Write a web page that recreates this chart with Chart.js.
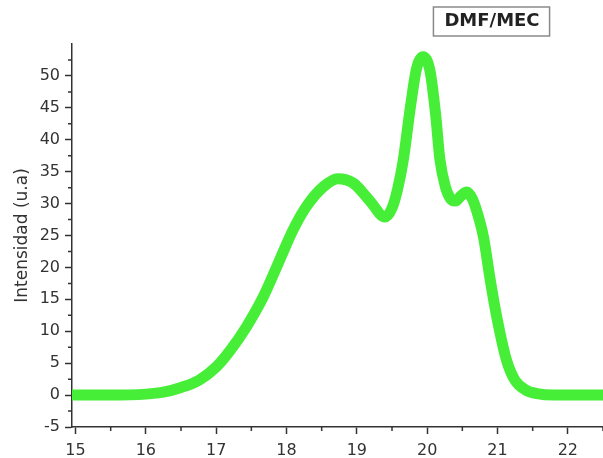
<!DOCTYPE html>
<html>
<head>
<meta charset="utf-8">
<script src="https://cdn.jsdelivr.net/npm/chart.js@4.4.1/dist/chart.umd.min.js"></script>
<style>
  html, body { margin: 0; padding: 0; background: #ffffff; }
  #wrap { width: 603px; height: 458px; }
</style>
</head>
<body>
<div id="wrap"><canvas id="c" width="603" height="458"></canvas></div>
<script>
// ---- data ----
const seriesLabel = 'DMF/MEC';
const yTitle = 'Intensidad (u.a)';
const xValues = [14.95, 15.5, 16.0, 16.25, 16.5, 16.75, 17.0, 17.2, 17.43, 17.67, 17.9, 18.09, 18.28, 18.52, 18.73, 18.95, 19.18, 19.4, 19.5, 19.58, 19.66, 19.76, 19.85, 19.94, 20.04, 20.12, 20.18, 20.26, 20.33, 20.4, 20.48, 20.56, 20.64, 20.7, 20.8, 20.9, 20.99, 21.13, 21.25, 21.4, 21.56, 21.8, 22.5];
const yValues = [0, 0, 0.15, 0.45, 1.2, 2.3, 4.4, 7.0, 10.7, 15.4, 21.1, 25.8, 29.5, 32.6, 33.9, 33.2, 30.5, 27.9, 29.3, 32.3, 36.8, 45.0, 51.2, 53.0, 50.8, 44.0, 37.0, 32.6, 30.8, 30.4, 31.2, 31.8, 30.8, 29.0, 24.8, 17.8, 12.2, 5.4, 2.3, 0.8, 0.24, 0, 0];
const xTicks = [15, 16, 17, 18, 19, 20, 21, 22];
const yTicks = [-5, 0, 5, 10, 15, 20, 25, 30, 35, 40, 45, 50];
const xRange = [14.95, 22.5];
const yRange = [-5, 55];

// ---- styles ----
const AXIS = '#333333';
const TEXT = '#333333';
const LINE = '#46ee37';
const FONT = 'DejaVu Sans';

const points = xValues.map((x, i) => ({ x: x, y: yValues[i] }));

const minorTicks = {
  id: 'minorTicks',
  afterDraw(chart) {
    const ctx = chart.ctx;
    const xs = chart.scales.x, ys = chart.scales.y;
    ctx.save();
    ctx.strokeStyle = AXIS;
    ctx.lineWidth = 1.5;
    ctx.beginPath();
    for (let i = 0; i < xTicks.length; i++) {
      const v = (xTicks[i] + (xTicks[i + 1] !== undefined ? xTicks[i + 1] : xTicks[i] + 1)) / 2;
      if (v <= xs.max) {
        const p = xs.getPixelForValue(v);
        ctx.moveTo(p, xs.top);
        ctx.lineTo(p, xs.top + 4);
      }
    }
    for (let i = 0; i < yTicks.length; i++) {
      const v = (yTicks[i] + (yTicks[i + 1] !== undefined ? yTicks[i + 1] : yTicks[i] + 5)) / 2;
      if (v < ys.max) {
        const p = ys.getPixelForValue(v);
        ctx.moveTo(ys.right, p);
        ctx.lineTo(ys.right - 4, p);
      }
    }
    ctx.stroke();
    ctx.restore();
  }
};

const legendFrame = {
  id: 'legendFrame',
  afterLayout(chart) {
    const lg = chart.legend;
    if (!lg) return;
    lg.left = 423;
    lg.right = 552;
  },
  afterDraw(chart) {
    const lg = chart.legend;
    if (!lg || !lg.legendHitBoxes || !lg.legendHitBoxes.length) return;
    const hb = lg.legendHitBoxes[0];
    const fs = lg.options.labels.font.size;
    const t0 = hb.left + fs / 2;
    const t1 = hb.left + hb.width;
    const cy = hb.top + hb.height / 2;
    const ctx = chart.ctx;
    ctx.save();
    ctx.strokeStyle = '#8a8a8a';
    ctx.lineWidth = 1.5;
    ctx.strokeRect(t0 - 11, cy - 14.5, (t1 - t0) + 21, 29);
    ctx.restore();
  }
};

new Chart(document.getElementById('c'), {
  type: 'line',
  data: {
    datasets: [{
      label: seriesLabel,
      data: points,
      borderColor: LINE,
      backgroundColor: LINE,
      borderWidth: 11,
      pointRadius: 0,
      pointHoverRadius: 0,
      cubicInterpolationMode: 'monotone',
      borderCapStyle: 'round',
      borderJoinStyle: 'round',
      fill: false,
      clip: { left: 0, right: 0, top: 10, bottom: 10 }
    }]
  },
  options: {
    responsive: false,
    animation: false,
    events: [],
    layout: { padding: 0 },
    plugins: {
      tooltip: { enabled: false },
      title: { display: false },
      legend: {
        display: true,
        position: 'top',
        align: 'center',
        labels: {
          boxWidth: 0,
          boxHeight: 25,
          padding: 9,
          color: '#222222',
          font: { family: FONT, size: 18, weight: 'bold' },
          generateLabels(chart) {
            return chart.data.datasets.map((ds, i) => ({
              text: ds.label,
              fillStyle: 'rgba(0,0,0,0)',
              strokeStyle: 'rgba(0,0,0,0)',
              lineWidth: 0,
              hidden: false,
              datasetIndex: i,
              fontColor: '#222222'
            }));
          }
        }
      }
    },
    scales: {
      x: {
        type: 'linear',
        min: xRange[0],
        max: xRange[1],
        afterBuildTicks(scale) { scale.ticks = xTicks.map(v => ({ value: v })); },
        afterFit(scale) { scale.height = 31; },
        grid: { display: true, drawOnChartArea: false, drawTicks: true, tickLength: 7, tickColor: AXIS, tickWidth: 1.5 },
        border: { display: true, color: AXIS, width: 1.5 },
        ticks: { color: TEXT, padding: 7, maxRotation: 0, autoSkip: false, font: { family: FONT, size: 16 } }
      },
      y: {
        type: 'linear',
        min: yRange[0],
        max: yRange[1],
        afterBuildTicks(scale) { scale.ticks = yTicks.map(v => ({ value: v })); },
        afterFit(scale) { scale.width = 72; },
        grid: { display: true, drawOnChartArea: false, drawTicks: true, tickLength: 7, tickColor: AXIS, tickWidth: 1.5 },
        border: { display: true, color: AXIS, width: 1.5 },
        ticks: { color: TEXT, padding: 5, autoSkip: false, font: { family: FONT, size: 16 } },
        title: {
          display: true,
          text: yTitle,
          color: TEXT,
          padding: { top: 12, bottom: 0 },
          font: { family: FONT, size: 17 }
        }
      }
    }
  },
  plugins: [minorTicks, legendFrame]
});
</script>
</body>
</html>
